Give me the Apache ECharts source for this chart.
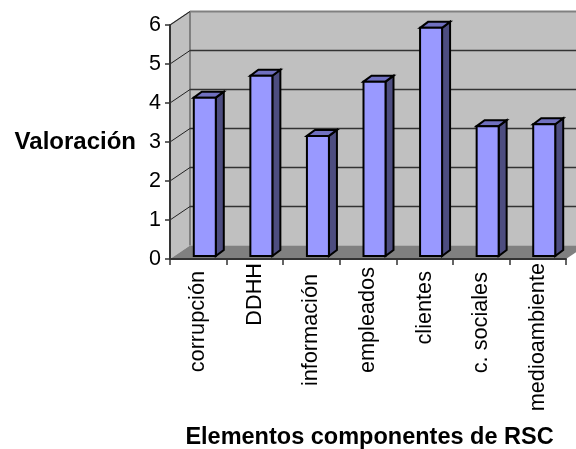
<!DOCTYPE html>
<html>
<head>
<meta charset="utf-8">
<style>html,body{margin:0;padding:0;background:#fff}#chart{width:576px;height:449px}</style>
<script src="https://cdn.jsdelivr.net/npm/echarts@6/dist/echarts.min.js"></script>
</head>
<body>
<div id="chart"></div>
<script>
const categories = ['corrupción', 'DDHH', 'información', 'empleados', 'clientes', 'c. sociales', 'medioambiente'];
const valoracion = [4.06, 4.62, 3.08, 4.47, 5.85, 3.33, 3.38];
const yTicks = [0, 1, 2, 3, 4, 5, 6];
// Extra gap between each rotated label and the axis
const labelGaps = [8, 0, 11, 4, 8, 9, 0];

const FONT = '"Liberation Sans", Arial, sans-serif';
// 3D look: depth of the plot box and of each column, in pixels
const WALL_DX = 20, WALL_DY = -13.5;
const BAR_DX = 8, BAR_DY = -6, BAR_SHIFT_X = 6.5, BAR_SHIFT_Y = -3, BAR_W = 22;

function poly(points, fill, stroke, lineWidth) {
  return { type: 'polygon', shape: { points }, style: { fill, stroke: stroke || null, lineWidth: lineWidth || 0, lineJoin: 'miter' } };
}
function line(a, b, stroke, lineWidth) {
  return { type: 'line', shape: { x1: a[0], y1: a[1], x2: b[0], y2: b[1] }, style: { stroke, lineWidth } };
}

function renderWalls(params) {
  const r = params.coordSys;
  const l = r.x, rt = r.x + r.width, t = r.y, b = r.y + r.height;
  const dx = WALL_DX, dy = WALL_DY;
  return { type: 'group', children: [
    poly([[l + dx, t + dy], [rt + dx + 30, t + dy], [rt + dx + 30, b + dy], [l + dx, b + dy]], '#c0c0c0'),
    poly([[l, t], [l + dx, t + dy], [l + dx, b + dy], [l, b]], '#c0c0c0'),
    poly([[l, b], [rt, b], [rt + dx, b + dy], [l + dx, b + dy]], '#808080'),
    line([l + dx, t + dy], [rt + dx + 30, t + dy], '#808080', 2),
    line([l + dx, t + dy], [l + dx, b + dy], '#808080', 2),
    line([l, t], [l + dx, t + dy], '#808080', 1.5)
  ] };
}

function renderGrid(params, api) {
  const v = api.value(0);
  const r = params.coordSys;
  const y = api.coord([0, v])[1];
  const l = r.x, rt = r.x + r.width + 50;
  const kids = [];
  if (v > 0) {
    kids.push(line([l, y], [l + WALL_DX, y + WALL_DY], '#222', 1));
    if (v < yTicks[yTicks.length - 1]) {
      kids.push(line([l + WALL_DX, y + WALL_DY], [rt, y + WALL_DY], '#333', 1.5));
    }
  }
  return { type: 'group', children: kids };
}

function renderBar(params, api) {
  const i = api.value(0), v = api.value(1);
  const c = api.coord([i, v]);
  const base = api.coord([i, 0])[1] + BAR_SHIFT_Y;
  const x0 = c[0] + BAR_SHIFT_X - BAR_W / 2, x1 = x0 + BAR_W;
  const top = c[1] + BAR_SHIFT_Y;
  const dx = BAR_DX, dy = BAR_DY;
  return { type: 'group', children: [
    poly([[x1, top], [x1 + dx, top + dy], [x1 + dx, base + dy], [x1, base]], '#4d4d80', '#000', 2),
    poly([[x0, top], [x0 + dx, top + dy], [x1 + dx, top + dy], [x1, top]], '#7070c0', '#000', 2),
    poly([[x0, top], [x1, top], [x1, base], [x0, base]], '#9999ff', '#000', 2)
  ] };
}

const chart = echarts.init(document.getElementById('chart'), null, { renderer: 'canvas' });
chart.setOption({
  animation: false,
  backgroundColor: '#fff',
  grid: { left: 170, top: 25, width: 396, height: 234, containLabel: false, outerBoundsMode: 'none' },
  xAxis: {
    type: 'category',
    z: 5,
    data: categories.map((c, i) => ({ value: c, textStyle: { padding: [3, labelGaps[i], 0, 0] } })),
    boundaryGap: true,
    name: 'Elementos componentes de RSC',
    nameLocation: 'middle',
    nameGap: 167,
    nameTextStyle: { fontFamily: FONT, fontSize: 23.5, fontWeight: 'bold', color: '#000', padding: [0, 0, 0, 3] },
    axisLine: { show: true, lineStyle: { color: '#333', width: 2 } },
    axisTick: { show: true, alignWithLabel: false, length: 6, lineStyle: { color: '#333', width: 1.5 } },
    axisLabel: { interval: 0, rotate: 90, margin: 4, hideOverlap: false, fontFamily: FONT, fontSize: 21.7, color: '#000' }
  },
  yAxis: {
    type: 'value',
    z: 5,
    min: 0,
    max: 6,
    interval: 1,
    name: 'Valoración',
    nameLocation: 'middle',
    nameRotate: 0,
    nameGap: 34,
    nameTextStyle: { fontFamily: FONT, fontSize: 24, fontWeight: 'bold', color: '#000' },
    axisLine: { show: true, lineStyle: { color: '#333', width: 2 } },
    axisTick: { show: true, length: 5, lineStyle: { color: '#333', width: 1.5 } },
    axisLabel: { margin: 9, fontFamily: FONT, fontSize: 21.5, color: '#000' },
    splitLine: { show: false }
  },
  series: [
    { type: 'custom', name: 'paredes', z: 1, silent: true, clip: false, data: [[0]], renderItem: renderWalls },
    { type: 'custom', name: 'rejilla', z: 2, silent: true, clip: false, data: yTicks.map(v => [v]), encode: { y: 0 }, renderItem: renderGrid },
    { type: 'custom', name: 'Valoración', z: 3, clip: false, data: valoracion.map((v, i) => [i, v]), encode: { x: 0, y: 1 }, renderItem: renderBar }
  ]
});
</script>
</body>
</html>
